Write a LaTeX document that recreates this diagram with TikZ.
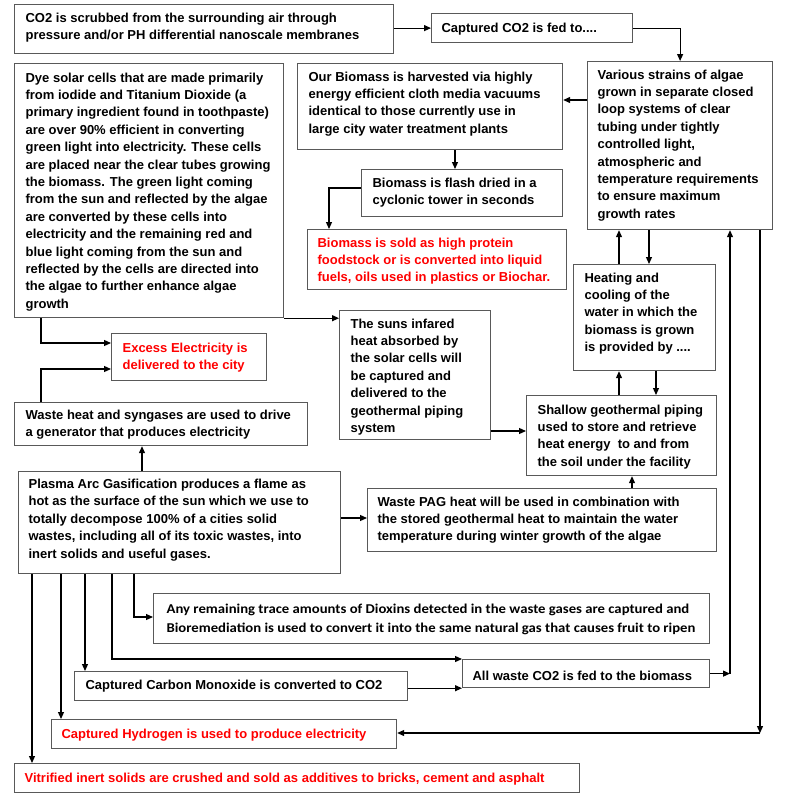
\documentclass[tikz,border=0pt]{standalone}
\usepackage{fontspec}
\setmainfont{Liberation Sans}
\newfontfamily\carlito{Carlito}[FakeStretch=1.09]
\usetikzlibrary{arrows.meta}
\newcommand{\bxt}[5]{\parbox[c][#2pt][t]{#1pt}{\raggedright\leftskip=#3pt\relax\rule{0pt}{#4pt}#5}}
\begin{document}
\begin{tikzpicture}[x=1pt,y=-1pt,
  box/.style={draw=black!65, line width=1.2pt, inner sep=0pt, anchor=north west,
    font=\fontsize{13}{17.4}\selectfont\bfseries},
  redtext/.style={text=red},
  arr/.style={-{Triangle[length=7pt,width=6pt]}, line width=1.2pt, black}]
\useasboundingbox[fill=white] (0,0) rectangle (800,798);

\node[box] (scrub) at (14,4) {\bxt{379}{49}{11}{17.5}{CO2 is scrubbed from the surrounding air through\\pressure and/or PH differential nanoscale membranes}};
\node[box] (captured) at (431,13) {\bxt{201}{29}{10}{18.5}{Captured CO2 is fed to....}};
\node[box] (various) at (587,61) {\bxt{185}{168}{10}{17.5}{Various strains of algae\\grown in separate closed\\loop systems of clear\\tubing under tightly\\controlled light,\\atmospheric and\\temperature requirements\\to ensure maximum\\growth rates}};
\node[box] (ourbio) at (297,63) {\bxt{265}{86}{11}{17.5}{Our Biomass is harvested via highly\\energy efficient cloth media vacuums\\identical to those currently use in\\large city water treatment plants}};
\node[box] (flash) at (361,169) {\bxt{201}{47}{11}{17.5}{Biomass is flash dried in a\\cyclonic tower in seconds}};
\node[box, redtext] (sold) at (307,229) {\bxt{259}{60}{10}{17.5}{Biomass is sold as high protein\\foodstock or is converted into liquid\\fuels, oils used in plastics or Biochar.}};
\node[box] (dye) at (14,63) {\bxt{269}{254}{11}{18.5}{Dye solar cells that are made primarily\\from iodide and Titanium Dioxide (a\\primary ingredient found in toothpaste)\\are over 90\% efficient in converting\\green light into electricity. These cells\\are placed near the clear tubes growing\\the biomass. The green light coming\\from the sun and reflected by the algae\\are converted by these cells into\\electricity and the remaining red and\\blue light coming from the sun and\\reflected by the cells are directed into\\the algae to further enhance algae\\growth}};
\node[box, redtext] (excess) at (111,333) {\bxt{155}{47}{11}{18.5}{Excess Electricity is\\delivered to the city}};
\node[box] (suns) at (339,310) {\bxt{151}{129}{11}{17.5}{The suns infared\\heat absorbed by\\the solar cells will\\be captured and\\delivered to the\\geothermal piping\\system}};
\node[box] (heating) at (573,264) {\bxt{142}{106}{11}{17.5}{Heating and\\cooling of the\\water in which the\\biomass is grown\\is provided by ....}};
\node[box] (shallow) at (526,395) {\bxt{190}{80}{11}{18.5}{Shallow geothermal piping\\used to store and retrieve\\heat energy\ \ to and from\\the soil under the facility}};
\node[box] (wasteheat) at (14,402) {\bxt{293}{43}{11}{16.5}{Waste heat and syngases are used to drive\\a generator that produces electricity}};
\node[box] (plasma) at (18,471) {\bxt{322}{102}{10}{16.5}{\fontsize{13}{17.6}\selectfont Plasma Arc Gasification produces a flame as\\hot as the surface of the sun which we use to\\totally decompose 100\% of a cities solid\\wastes, including all of its toxic wastes, into\\inert solids and useful gases.}};
\node[box] (pag) at (367,488) {\bxt{349}{63}{10}{17.5}{Waste PAG heat will be used in combination with\\the stored geothermal heat to maintain the water\\temperature during winter growth of the algae}};
\node[box] (dioxins) at (153,593) {\bxt{556}{50}{13}{19.5}{\carlito\bfseries\fontsize{13.5}{19}\selectfont Any remaining trace amounts of Dioxins detected in the waste gases are captured and\\Bioremediation is used to convert it into the same natural gas that causes fruit to ripen}};
\node[box] (allco2) at (462,659) {\bxt{247}{28}{10}{20.5}{All waste CO2 is fed to the biomass}};
\node[box] (co) at (74,671) {\bxt{333}{29}{11}{17.5}{Captured Carbon Monoxide is converted to CO2}};
\node[box, redtext] (hydrogen) at (51,719) {\bxt{345}{29}{10}{18.5}{Captured Hydrogen is used to produce electricity}};
\node[box, redtext] (vitrified) at (14,763) {\bxt{565}{29}{10}{18.5}{Vitrified inert solids are crushed and sold as additives to bricks, cement and asphalt}};

% helper levels
\coordinate (Y100) at (0,100);
\coordinate (X455) at (455,0);
\coordinate (Y188) at (0,188);
\coordinate (X329) at (329,0);
\coordinate (X619) at (619,0);
\coordinate (X649) at (649,0);
\coordinate (X656) at (656,0);
\coordinate (Y431) at (0,431);
\coordinate (X632) at (632,0);
\coordinate (Y518) at (0,518);
\coordinate (X142) at (142,0);
\coordinate (X41) at (41,0);
\coordinate (Y369) at (0,369);
\coordinate (Y343) at (0,343);
\coordinate (X134) at (134,0);
\coordinate (Y617) at (0,617);
\coordinate (X112) at (112,0);
\coordinate (X85) at (85,0);
\coordinate (X61) at (61,0);
\coordinate (X32) at (32,0);
\coordinate (X730) at (730,0);
\coordinate (X760) at (760,0);
\coordinate (Y733) at (0,733);
\coordinate (c730) at (X730 |- allco2.east);
\coordinate (c760) at (X760 |- Y733);

\draw[arr] (scrub.east |- captured.west) -- (captured.west);
\draw[arr] (captured.east) -| (various.north);
\draw[arr] (various.west |- Y100) -- (ourbio.east |- Y100);
\draw[arr] (ourbio.south -| X455) -- (flash.north -| X455);
\draw[arr] (flash.west |- Y188) -| (X329 |- sold.north);
\draw[arr] (heating.north -| X619) -- (various.south -| X619);
\draw[arr] (various.south -| X649) -- (heating.north -| X649);
\draw[arr] (shallow.north -| X619) -- (heating.south -| X619);
\draw[arr] (heating.south -| X656) -- (shallow.north -| X656);
\draw[arr] (suns.east |- Y431) -- (shallow.west |- Y431);
\draw[arr] (pag.north -| X632) -- (shallow.south -| X632);
\draw[arr] (plasma.east |- Y518) -- (pag.west |- Y518);
\draw[arr] (plasma.north -| X142) -- (wasteheat.south -| X142);
\draw[arr] (wasteheat.north -| X41) |- (excess.west |- Y369);
\draw[arr] (dye.south -| X41) |- (excess.west |- Y343);
\draw[arr] (dye.south east) -- (suns.west |- dye.south east);
\draw[arr] (plasma.south -| X134) |- (dioxins.west |- Y617);
\draw[arr] (plasma.south -| X112) |- (allco2.north west);
\draw[arr] (plasma.south -| X85) -- (co.north -| X85);
\draw[arr] (plasma.south -| X61) -- (hydrogen.north -| X61);
\draw[arr] (plasma.south -| X32) -- (vitrified.north -| X32);
\draw[arr] (co.east |- allco2.south west) -- (allco2.south west);
\draw[arr] (allco2.east) -- (c730);
\draw[arr] (c730) -- (various.south -| X730);
\draw[arr] (various.south -| X760) -- (c760);
\draw[arr] (c760) -- (hydrogen.east |- Y733);
\end{tikzpicture}
\end{document}
